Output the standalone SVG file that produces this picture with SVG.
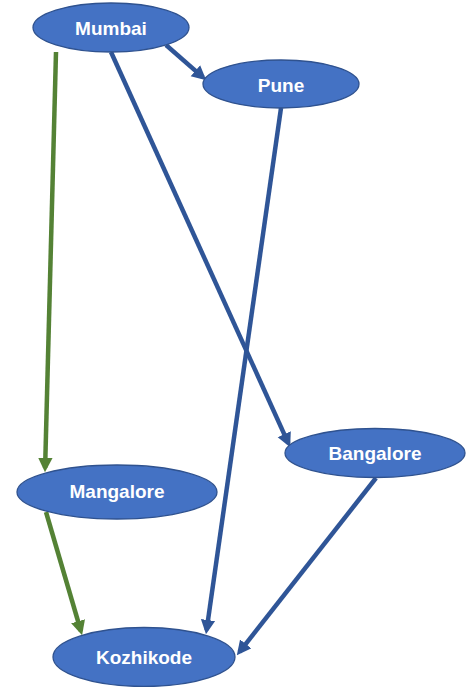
<svg xmlns="http://www.w3.org/2000/svg" width="473" height="687" viewBox="0 0 473 687">
  <style>
    .node ellipse { fill: #4472C4; stroke: #2F528F; stroke-width: 1.3; }
    .node text { fill: #FFFFFF; font-family: "Liberation Sans", Arial, sans-serif; font-weight: bold; font-size: 19px; text-anchor: middle; }
    .edge { fill: none; stroke-width: 4.5; }
    .blue { stroke: #2F5597; }
    .green { stroke: #548235; }
  </style>
  <defs>
    <marker id="arrowBlue" viewBox="0 0 10 10" refX="7" refY="5" markerWidth="3.2" markerHeight="3.5" orient="auto" markerUnits="strokeWidth">
      <path d="M0,0 L10,5 L0,10 z" fill="#2F5597"/>
    </marker>
    <marker id="arrowGreen" viewBox="0 0 10 10" refX="7" refY="5" markerWidth="3.2" markerHeight="3.5" orient="auto" markerUnits="strokeWidth">
      <path d="M0,0 L10,5 L0,10 z" fill="#548235"/>
    </marker>
  </defs>

  <g id="connectors">
    <path class="edge blue" d="M166,45 L203,77.4" marker-end="url(#arrowBlue)"/>
    <path class="edge blue" d="M111,52 L288.4,443.4" marker-end="url(#arrowBlue)"/>
    <path class="edge blue" d="M281,108 L206.6,630" marker-end="url(#arrowBlue)"/>
    <path class="edge blue" d="M376,478 L239.5,651.9" marker-end="url(#arrowBlue)"/>
    <path class="edge green" d="M56,52 L45.1,468" marker-end="url(#arrowGreen)"/>
    <path class="edge green" d="M46,512 L80.9,631" marker-end="url(#arrowGreen)"/>
  </g>

  <g id="mumbai" class="node">
    <ellipse cx="111" cy="27.5" rx="78" ry="24.5"/>
    <text x="111" y="35">Mumbai</text>
  </g>
  <g id="pune" class="node">
    <ellipse cx="281" cy="84" rx="78" ry="24"/>
    <text x="281" y="92">Pune</text>
  </g>
  <g id="bangalore" class="node">
    <ellipse cx="375" cy="453" rx="90" ry="24.5"/>
    <text x="375" y="460">Bangalore</text>
  </g>
  <g id="mangalore" class="node">
    <ellipse cx="117" cy="492" rx="100" ry="27"/>
    <text x="117" y="498">Mangalore</text>
  </g>
  <g id="kozhikode" class="node">
    <ellipse cx="144" cy="657" rx="91" ry="29.5"/>
    <text x="144" y="664">Kozhikode</text>
  </g>
</svg>
